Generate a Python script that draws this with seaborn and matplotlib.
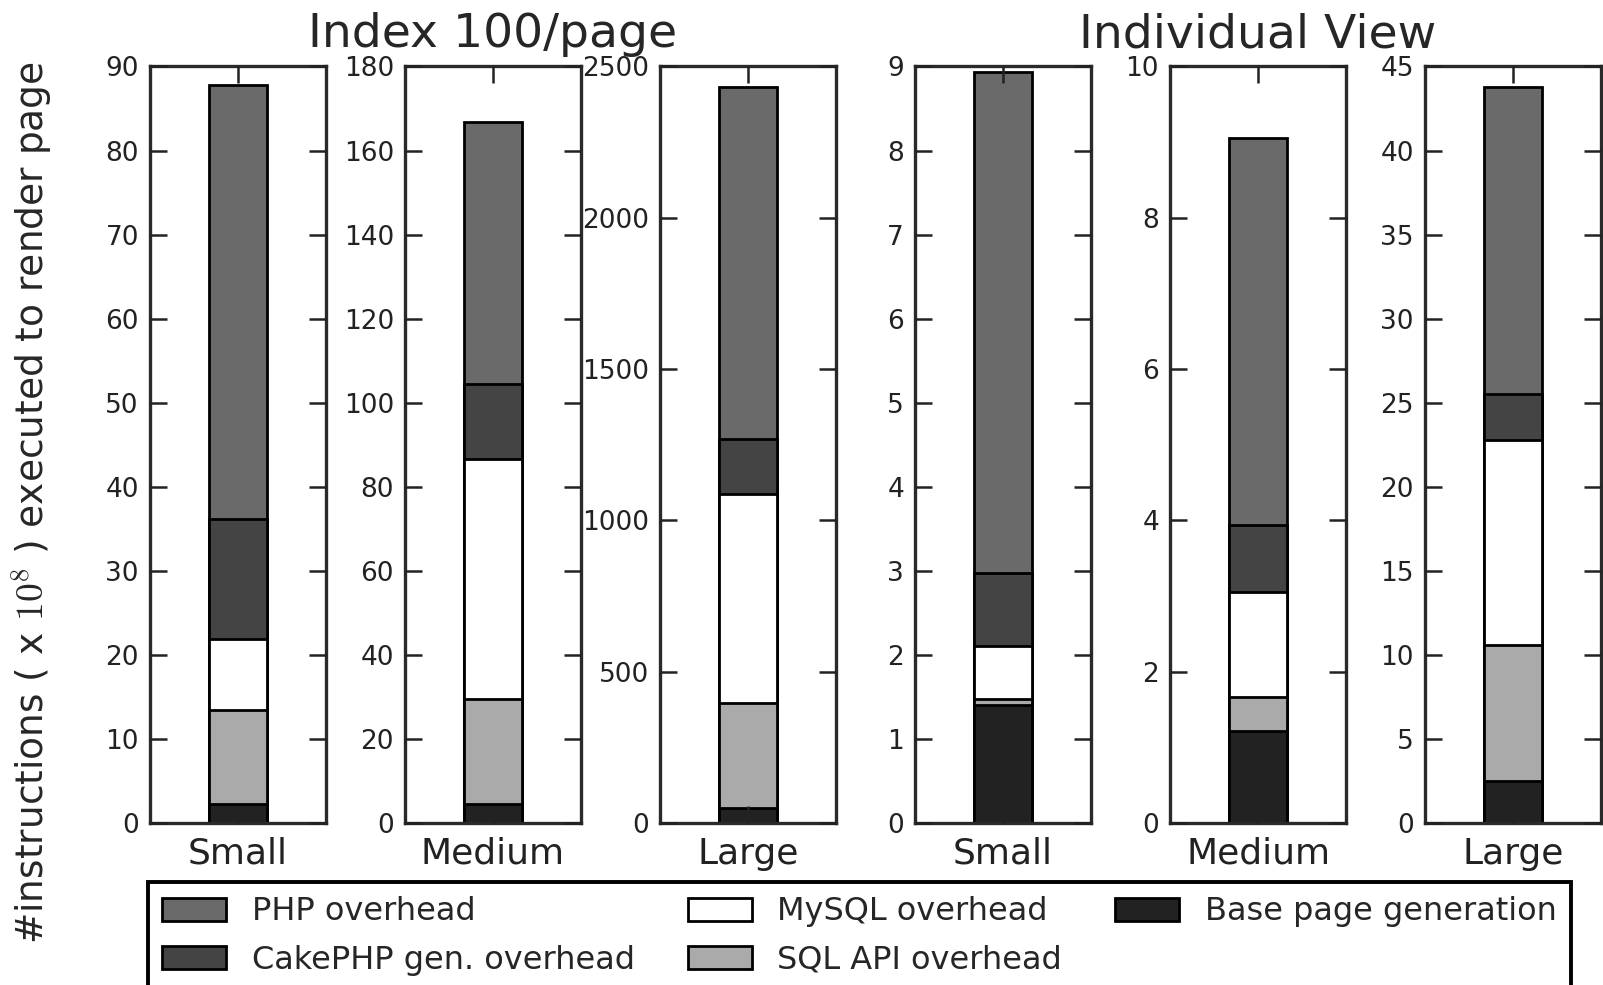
import numpy as np
import matplotlib
matplotlib.use("Agg")
import matplotlib.pyplot as plt
import seaborn as sns
from matplotlib.patches import Patch

# panels, left to right
sizes = ["Small", "Medium", "Large", "Small", "Medium", "Large"]
y_max = [90, 180, 2500, 9, 10, 45]
y_step = [10, 20, 500, 1, 2, 5]

# segment heights (x 10^8 instructions), bottom to top of each bar
base_page = [2.2, 4.4, 50, 1.40, 1.22, 2.5]
sql_api = [11.2, 25.2, 347, 0.07, 0.45, 8.1]
mysql = [8.5, 57.0, 690, 0.64, 1.38, 12.2]
cakephp = [14.3, 17.9, 182, 0.86, 0.89, 2.7]
php = [51.6, 62.3, 1163, 5.96, 5.12, 18.3]

layer_names = ["Base page generation", "SQL API overhead", "MySQL overhead",
               "CakePHP gen. overhead", "PHP overhead"]
layer_colors = ["#222222", "#aaaaaa", "#ffffff", "#444444", "#6a6a6a"]
layer_values = [base_page, sql_api, mysql, cakephp, php]

sns.set_style("ticks", {"xtick.direction": "in", "ytick.direction": "in"})
plt.rcParams["font.family"] = "DejaVu Sans"
plt.rcParams["mathtext.fontset"] = "cm"

fig, axes = plt.subplots(1, 6, figsize=(16.03, 9.85), dpi=100)
fig.subplots_adjust(left=0.0936, right=0.9988, top=0.9325, bottom=0.1645, wspace=0.449)

for i, ax in enumerate(axes):
    stack = np.cumsum([v[i] for v in layer_values])
    # stacked look: draw the cumulative totals from the top down
    for color, h in reversed(list(zip(layer_colors, stack))):
        sns.barplot(x=[sizes[i]], y=[h], color=color, saturation=1, width=1/3,
                    edgecolor="black", linewidth=2, ax=ax)
    ax.set_xlim(-0.5, 0.5)
    ax.set_ylim(0, y_max[i])
    ax.set_yticks(np.arange(0, y_max[i] + y_step[i] / 2, y_step[i]))
    ax.set_xlabel("")
    ax.set_ylabel("")
    ax.set_axisbelow(False)
    ax.tick_params(axis="y", direction="in", left=True, right=True, length=12,
                   width=1.8, labelsize=19, pad=8, colors="#222222")
    ax.tick_params(axis="x", direction="in", top=True, bottom=True, length=12,
                   width=1.8, labelsize=26, pad=10, colors="#222222")
    for s in ax.spines.values():
        s.set_visible(True)
        s.set_linewidth(2.4)
        s.set_color("#2a2a2a")

axes[1].set_title("Index 100/page", fontsize=34, pad=14)
axes[4].set_title("Individual View", fontsize=34, pad=14)

fig.text(0.02, 0.49, r"#instructions ( x $10^8$ ) executed to render page",
         rotation=90, ha="center", va="center", fontsize=27)

# legend, column-wise order
order = [4, 3, 2, 1, 0]
handles = [Patch(facecolor=layer_colors[k], edgecolor="black", linewidth=2,
                 label=layer_names[k]) for k in order]
leg = fig.legend(handles=handles, loc="upper left", ncol=3, mode="expand",
                 bbox_to_anchor=(0.0923, 0.1046 - 0.2, 0.8877, 0.2),
                 borderaxespad=0, fontsize=23, handlelength=2.0, handleheight=0.75,
                 handletextpad=0.8, borderpad=0.45, labelspacing=0.55,
                 fancybox=False, framealpha=1)
leg.get_frame().set_edgecolor("black")
leg.get_frame().set_linewidth(2.8)

plt.savefig("out.png", dpi=100)
